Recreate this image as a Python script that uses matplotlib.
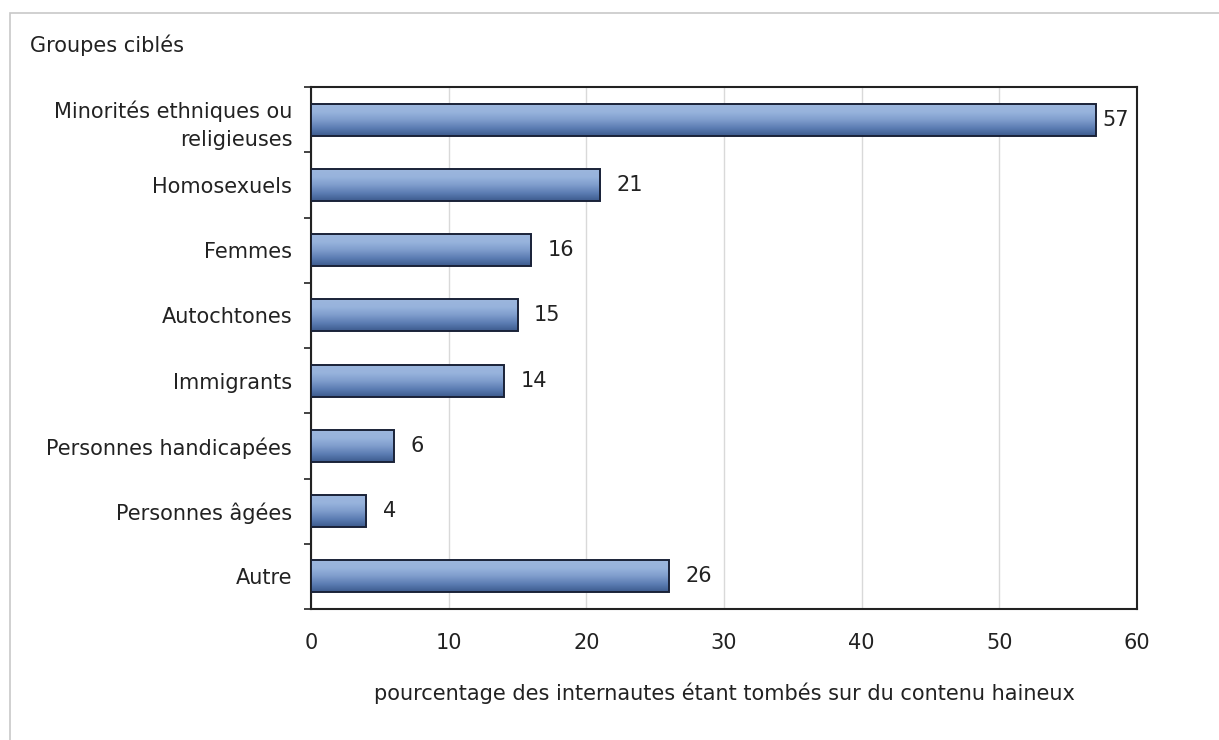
import numpy as np
import matplotlib
matplotlib.use("Agg")
import matplotlib.pyplot as plt
from matplotlib.patches import Rectangle
from matplotlib.colors import LinearSegmentedColormap
from matplotlib.transforms import offset_copy

categories = ["Minorités ethniques ou\nreligieuses", "Homosexuels", "Femmes", "Autochtones",
              "Immigrants", "Personnes handicapées", "Personnes âgées", "Autre"]
values = [57, 21, 16, 15, 14, 6, 4, 26]
xticks = [0, 10, 20, 30, 40, 50, 60]
title = "Groupes ciblés"
xlabel = "pourcentage des internautes étant tombés sur du contenu haineux"

W, H = 1219, 740
FS = 15
fig = plt.figure(figsize=(W / 100, H / 100), dpi=100)
fig.patch.set_facecolor("white")

# outer frame
fig.patches.append(Rectangle((10 / W, -0.1), 1.2, (H - 13) / H + 0.1, transform=fig.transFigure,
                             fill=False, edgecolor="#c8c8c8", linewidth=1.2))

ax = fig.add_axes([311 / W, 1 - 609 / H, (1137 - 311) / W, (609 - 87) / H])
n = len(categories)
ypos = np.arange(n)
ax.set_ylim(n - 0.5, -0.5)
ax.set_xlim(0, 60)

cmap = LinearSegmentedColormap.from_list("g", ["#9cb6dd", "#97b3dc", "#7f9dcc", "#5c7db3", "#3d5b8e"])
grad = np.linspace(0, 1, 100).reshape(-1, 1)
bh = 0.49
vmax = max(values)
for y, v in zip(ypos, values):
    ax.imshow(grad, cmap=cmap, aspect="auto", extent=(0, v, y + bh / 2, y - bh / 2),
              zorder=3, interpolation="bicubic")
    ax.add_patch(Rectangle((0, y - bh / 2), v, bh, facecolor="none", edgecolor="#1a2238",
                           linewidth=1.4, zorder=4))
    off = 5 if v == vmax else 12
    tr = offset_copy(ax.transData, fig=fig, x=off, y=0, units="points")
    ax.text(v, y, str(v), va="center", ha="left", fontsize=FS, color="#222222", zorder=5,
            transform=tr)

ax.set_xticks(xticks)
ax.set_xticklabels([str(t) for t in xticks], fontsize=FS, color="#222222")
ax.set_yticks(ypos)
ax.set_yticklabels(categories, fontsize=FS, color="#222222", linespacing=1.45)
ax.tick_params(axis="y", length=0, pad=13.5)
ax.set_yticks(np.arange(n + 1) - 0.5, minor=True)
ax.tick_params(axis="y", which="minor", length=5, width=1.2, color="#222222")
ax.tick_params(axis="x", length=0, pad=17)
ax.grid(axis="x", color="#d9d9d9", linewidth=1, zorder=0)
ax.set_axisbelow(True)
for s in ax.spines.values():
    s.set_color("#222222")
    s.set_linewidth(1.5)

ax.set_xlabel(xlabel, fontsize=FS, color="#222222", labelpad=21.5)
fig.text(30 / W, 1 - 45 / H, title, fontsize=FS, color="#222222", ha="left", va="center")

fig.savefig("out.png", dpi=100)
